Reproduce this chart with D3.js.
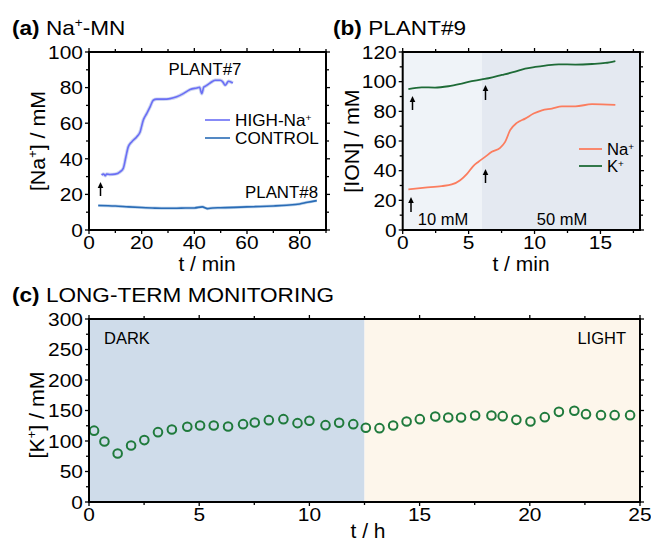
<!DOCTYPE html>
<html><head><meta charset="utf-8">
<script src="https://cdn.jsdelivr.net/npm/d3@7"></script>
<style>body{margin:0;background:#fff}svg{font-family:"Liberation Sans",Arial,sans-serif}</style>
</head><body><svg id="c" width="651" height="543"></svg>
<script>
// ---- Panel (a) data ----
const highNaT = [4.8,5.5,6.2,6.7,8,9.9,11.8,13.0,14.0,14.9,16.2,18.1,19.4,20.6,21.9,23.2,24.4,25.7,28.2,30.8,33.3,35.8,38.4,40.9,42.0,42.8,43.6,44.1,46.0,47.9,49.8,50.8,51.7,53.0,54.6];
const highNaV = [30.8,31.5,30.5,31.4,31.2,31.4,32.7,34.6,41,46.7,49.5,52.3,55.1,61.7,65.4,69.2,72.9,73.5,73.5,73.8,74.8,76.6,78.9,79.8,80.2,76.6,80.3,80.7,82.6,84.1,84.1,83.2,81.3,83.6,82.6];
const controlT = [3.5,10,15,20,25,30,35,40,43,45,47,50,55,60,65,70,75,80,83,86.5];
const controlV = [13.8,13.5,13.0,12.6,12.3,12.2,12.3,12.4,13.0,12.0,12.4,12.5,12.7,13.0,13.2,13.5,13.9,14.6,15.6,16.5];
const ticksA_x = [0,20,40,60,80];
const ticksA_y = [0,20,40,60,80,100];

// ---- Panel (b) data ----
const kT = [0.43,1.44,2.45,3.47,4.48,5.24,6.0,6.5,7.52,8.53,9.29,10.05,10.81,11.83,13.1,14.36,15.37,16.13];
const kV = [94.9,96.2,96.0,96.9,98.7,100.3,101.6,102.3,104.5,106.8,108.8,109.9,110.8,111.7,111.5,111.9,112.6,113.9];
const naT = [0.43,1.69,2.96,3.72,4.36,4.86,5.37,5.75,6.25,6.76,7.39,7.77,8.15,8.66,9.29,9.93,10.56,11.32,12.08,13.1,14.36,16.13];
const naV = [27.4,28.5,29.6,30.7,33.6,37.7,43.3,46.0,49.3,52.7,55.4,59.4,67.3,72.2,75.1,78.5,80.7,81.9,83.4,83.4,84.8,84.3];
const ticksB_x = [0,5,10,15];
const ticksB_y = [0,20,40,60,80,100,120];

// ---- Panel (c) data ----
const ltT = [0.23,0.70,1.30,1.91,2.51,3.13,3.76,4.46,5.04,5.66,6.31,6.99,7.52,8.16,8.82,9.46,10.0,10.73,11.35,11.99,12.56,13.18,13.80,14.41,15.01,15.71,16.30,16.88,17.52,18.26,18.77,19.39,20.03,20.68,21.32,22.02,22.55,23.23,23.85,24.55];
const ltK = [117,99.3,79.6,92.7,101.5,114.5,118.9,123.3,125.5,125.5,123.8,127.6,130.4,134.2,135.8,129.3,133.1,126,129.8,127.6,121.6,121.1,125.5,132,135.8,140.2,138.5,138.5,141.8,141.8,140.7,134.7,132,139.1,147.8,149.5,144,142.4,142.4,142.4];
const ticksC_x = [0,5,10,15,20,25];
const ticksC_y = [0,50,100,150,200,250,300];

const svg = d3.select("#c");
const FS = 19;

// text helper with horizontal stretch
function txt(g, x, y, size, sx, anchor, rot) {
  return g.append("text")
    .attr("transform", `translate(${x},${y})` + (rot ? ` rotate(${rot})` : "") + ` scale(${sx},1)`)
    .attr("font-size", size).attr("text-anchor", anchor || "start");
}
function sup(t, base, s, after, up) {
  const u = up || 0.65;
  t.append("tspan").text(base);
  t.append("tspan").attr("font-size","0.6em").attr("dy",`-${u}em`).text(s);
  if (after) t.append("tspan").attr("dy",`${u*0.6}em`).text(after);
  return t;
}

function frame(g, x, y, xt, yt, xminor, yminor) {
  const [x0,x1] = x.range(), [y0,y1] = y.range();
  const tk = g.append("g").attr("stroke","#000").attr("stroke-width",1.3);
  xminor.forEach(v=>{ const len = xt.includes(v)?4:3;
    tk.append("line").attr("x1",x(v)).attr("x2",x(v)).attr("y1",y0).attr("y2",y0+len);
    tk.append("line").attr("x1",x(v)).attr("x2",x(v)).attr("y1",y1).attr("y2",y1-len);
  });
  yminor.forEach(v=>{ const len = yt.includes(v)?4:3;
    tk.append("line").attr("y1",y(v)).attr("y2",y(v)).attr("x1",x0).attr("x2",x0-len);
    tk.append("line").attr("y1",y(v)).attr("y2",y(v)).attr("x1",x1).attr("x2",x1+len);
  });
  g.append("rect").attr("x",x0).attr("y",y1).attr("width",x1-x0).attr("height",y0-y1)
    .attr("fill","none").attr("stroke","#000").attr("stroke-width",2);
  xt.forEach(v=>txt(g, x(v), y0+19, FS, 1.1, "middle").text(v));
  yt.forEach(v=>txt(g, x0-6, y(v)+6.7, FS, 1.1, "end").text(v));
}
function title(x, y, tag, build) {
  const t = txt(svg, x, y, 20, 1.13);
  t.append("tspan").attr("font-weight","bold").text(tag+" ");
  build(t);
}
function arrow(g, x, yTop, yBot) {
  g.append("line").attr("x1",x).attr("x2",x).attr("y1",yTop+3).attr("y2",yBot).attr("stroke","#000").attr("stroke-width",1.5);
  g.append("path").attr("d",`M${x-2.8},${yTop+5}L${x},${yTop-1}L${x+2.8},${yTop+5}Z`).attr("fill","#000");
}
const range = (a,b,s)=>d3.range(a,b+s/2,s);

// ======== Panel (a) ========
const xa = d3.scaleLinear().domain([0,90]).range([89,326]);
const ya = d3.scaleLinear().domain([0,100]).range([230,52]);
const ga = svg.append("g");
const lineA = d3.line().x(d=>xa(d[0])).y(d=>ya(d[1])).curve(d3.curveMonotoneX);
const hiData = highNaT.map((t,i)=>[t,highNaV[i]]);
const ctData = controlT.map((t,i)=>[t,controlV[i]]);
ga.append("path").attr("d",lineA(hiData)).attr("fill","none").attr("stroke","#aab8ea").attr("stroke-width",3.5).attr("opacity",0.6);
ga.append("path").attr("d",lineA(hiData)).attr("fill","none").attr("stroke","#6a6ef5").attr("stroke-width",1.6);
ga.append("path").attr("d",lineA(ctData)).attr("fill","none").attr("stroke","#8fb5de").attr("stroke-width",3).attr("opacity",0.6);
ga.append("path").attr("d",lineA(ctData)).attr("fill","none").attr("stroke","#2a6cb6").attr("stroke-width",1.6);
frame(ga, xa, ya, ticksA_x, ticksA_y, range(0,90,10), range(0,100,10));
txt(ga, 205, 75, 16.5, 1.02, "middle").text("PLANT#7");
txt(ga, 318, 198, 16.5, 1.02, "end").text("PLANT#8");
ga.append("line").attr("x1",205).attr("x2",230).attr("y1",120).attr("y2",120).attr("stroke","#6a6ef5").attr("stroke-width",1.6);
ga.append("line").attr("x1",205).attr("x2",230).attr("y1",138).attr("y2",138).attr("stroke","#2a6cb6").attr("stroke-width",1.6);
sup(txt(ga, 235, 126, 16.5, 1.04), "HIGH-Na", "+", null, 0.55);
txt(ga, 235, 144, 16.5, 1.04).text("CONTROL");
arrow(ga, 100.5, 183, 196);
sup(txt(ga, 45, 141, 20, 1.07, "middle", -90), "[Na", "+", "] / mM");
txt(ga, 207, 271, 20, 1.05, "middle").text("t / min");
title(12, 35, "(a)", t=>sup(t, "Na", "+", "-MN"));

// ======== Panel (b) ========
const xb = d3.scaleLinear().domain([0,18]).range([402.7,640]);
const yb = d3.scaleLinear().domain([0,120]).range([230,52]);
const gb = svg.append("g");
gb.append("rect").attr("x",xb(0)).attr("y",yb(120)).attr("width",xb(6)-xb(0)).attr("height",yb(0)-yb(120)).attr("fill","#eff3f8");
gb.append("rect").attr("x",xb(6)).attr("y",yb(120)).attr("width",xb(18)-xb(6)).attr("height",yb(0)-yb(120)).attr("fill","#e4e9f1");
const lineB = d3.line().x(d=>xb(d[0])).y(d=>yb(d[1])).curve(d3.curveMonotoneX);
gb.append("path").attr("d",lineB(kT.map((t,i)=>[t,kV[i]]))).attr("fill","none").attr("stroke","#1e6b37").attr("stroke-width",1.8);
gb.append("path").attr("d",lineB(naT.map((t,i)=>[t,naV[i]]))).attr("fill","none").attr("stroke","#fb7d5f").attr("stroke-width",1.8);
frame(gb, xb, yb, ticksB_x, ticksB_y, range(0,17.5,2.5), range(0,120,10));
gb.append("line").attr("x1",579).attr("x2",602).attr("y1",149).attr("y2",149).attr("stroke","#fb7d5f").attr("stroke-width",1.8);
gb.append("line").attr("x1",579).attr("x2",602).attr("y1",166).attr("y2",166).attr("stroke","#1e6b37").attr("stroke-width",1.8);
sup(txt(gb, 607, 155, 16, 1.04), "Na", "+", null, 0.5);
sup(txt(gb, 607, 172, 16, 1.04), "K", "+", null, 0.5);
txt(gb, 443, 225, 16.5, 1.0, "middle").text("10 mM");
txt(gb, 562, 225, 16.5, 1.0, "middle").text("50 mM");
arrow(gb, 412.5, 97, 110);
arrow(gb, 485.5, 86, 100);
arrow(gb, 411, 198, 212);
arrow(gb, 485.5, 170, 183);
txt(gb, 359, 141, 20, 1.07, "middle", -90).text("[ION] / mM");
txt(gb, 521, 271, 20, 1.05, "middle").text("t / min");
title(333, 35, "(b)", t=>t.append("tspan").text("PLANT#9"));

// ======== Panel (c) ========
const xc = d3.scaleLinear().domain([0,25]).range([89,640]);
const yc = d3.scaleLinear().domain([0,300]).range([502,319]);
const gc = svg.append("g");
gc.append("rect").attr("x",xc(0)).attr("y",yc(300)).attr("width",xc(12.5)-xc(0)).attr("height",yc(0)-yc(300)).attr("fill","#cfdcea");
gc.append("rect").attr("x",xc(12.5)).attr("y",yc(300)).attr("width",xc(25)-xc(12.5)).attr("height",yc(0)-yc(300)).attr("fill","#fdf6eb");
gc.selectAll("circle").data(ltT.map((t,i)=>[t,ltK[i]])).join("circle")
  .attr("cx",d=>xc(d[0])).attr("cy",d=>yc(d[1])).attr("r",4.3)
  .attr("fill","none").attr("stroke","#1f7a3c").attr("stroke-width",2);
frame(gc, xc, yc, ticksC_x, ticksC_y, range(0,25,2.5), range(0,300,25));
txt(gc, 104, 344, 16.5, 1.0).text("DARK");
txt(gc, 626, 344, 16.5, 1.0, "end").text("LIGHT");
sup(txt(gc, 44, 415, 20, 1.07, "middle", -90), "[K", "+", "] / mM");
txt(gc, 368, 538, 20, 1.05, "middle").text("t / h");
title(12, 302, "(c)", t=>t.append("tspan").text("LONG-TERM MONITORING"));
</script></body></html>
